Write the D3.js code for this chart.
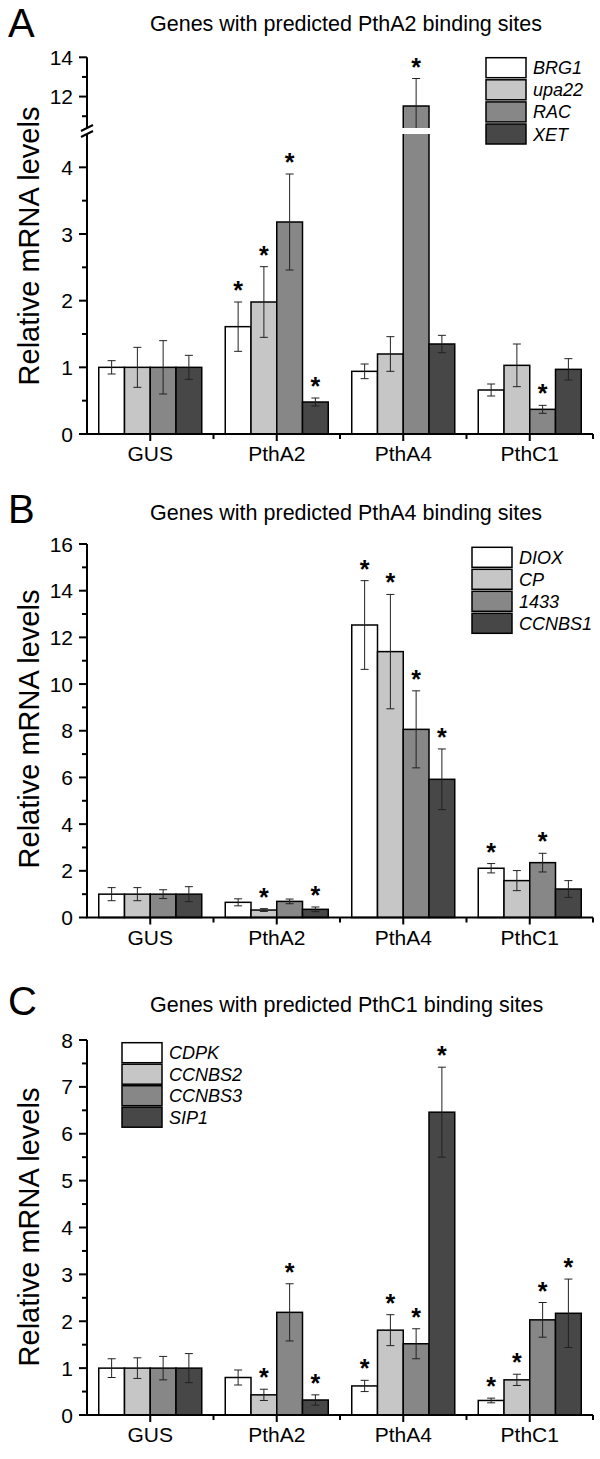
<!DOCTYPE html>
<html>
<head>
<meta charset="utf-8">
<script src="https://cdn.jsdelivr.net/npm/d3@7"></script>
<style>
  html, body { margin: 0; padding: 0; background: #fff; }
  svg { display: block; }
  text { font-family: "Liberation Sans", Arial, sans-serif; fill: #000; }
</style>
</head>
<body>
<svg id="chart" width="600" height="1459"></svg>
<script>
// ---------- DATA ----------
const categories = ["GUS", "PthA2", "PthA4", "PthC1"];
const fills = ["#ffffff", "#c6c6c6", "#878787", "#474747"];

// Panel A
const seriesA = ["BRG1", "upa22", "RAC", "XET"];
const valuesA = [
  [1.00, 1.61, 0.94, 0.66],
  [1.00, 1.98, 1.20, 1.03],
  [1.00, 3.18, 11.52, 0.37],
  [1.00, 0.48, 1.35, 0.97]
];
const errorsA = [
  [0.10, 0.37, 0.11, 0.09],
  [0.30, 0.53, 0.26, 0.32],
  [0.40, 0.72, 1.40, 0.06],
  [0.18, 0.06, 0.13, 0.16]
];
const starsA = [
  [0, 1, 0, 0],
  [0, 1, 0, 0],
  [0, 1, 1, 1],
  [0, 1, 0, 0]
];
const ticksA_low = [0, 1, 2, 3, 4];
const ticksA_high = [12, 14];

// Panel B
const seriesB = ["DIOX", "CP", "1433", "CCNBS1"];
const valuesB = [
  [1.00, 0.65, 12.53, 2.11],
  [1.00, 0.32, 11.39, 1.58],
  [1.00, 0.69, 8.06, 2.35],
  [1.00, 0.35, 5.92, 1.22]
];
const errorsB = [
  [0.28, 0.15, 1.90, 0.20],
  [0.28, 0.06, 2.45, 0.43],
  [0.19, 0.10, 1.65, 0.40],
  [0.32, 0.10, 1.30, 0.36]
];
const starsB = [
  [0, 0, 1, 1],
  [0, 1, 1, 0],
  [0, 0, 1, 1],
  [0, 1, 1, 0]
];
const ticksB = [0, 2, 4, 6, 8, 10, 12, 14, 16];

// Panel C
const seriesC = ["CDPK", "CCNBS2", "CCNBS3", "SIP1"];
const valuesC = [
  [1.00, 0.80, 0.62, 0.31],
  [1.00, 0.43, 1.81, 0.75],
  [1.00, 2.19, 1.52, 2.03],
  [1.00, 0.32, 6.46, 2.17]
];
const errorsC = [
  [0.20, 0.16, 0.12, 0.05],
  [0.22, 0.12, 0.33, 0.12],
  [0.25, 0.61, 0.32, 0.37],
  [0.31, 0.11, 0.96, 0.73]
];
const starsC = [
  [0, 0, 1, 1],
  [0, 1, 1, 1],
  [0, 1, 1, 1],
  [0, 1, 1, 1]
];
const ticksC = [0, 1, 2, 3, 4, 5, 6, 7, 8];

// ---------- DRAW ----------
const svg = d3.select("#chart");
const X0 = 87, X1 = 593;
const x = d3.scaleBand().domain(categories).range([X0, X1]).padding(0);
const groupW = 103;

function drawPanel(cfg) {
  const g = svg.append("g");
  const y = cfg.y; // function value -> pixel
  const xs = d3.scaleBand().domain(cfg.series).range([0, groupW]).padding(0);

  // panel letter & title
  g.append("text").attr("x", 8).attr("y", cfg.letterY)
    .attr("font-size", 40).text(cfg.letter);
  g.append("text").attr("x", 150).attr("y", cfg.titleY)
    .attr("font-size", 21.5).text(cfg.title);

  // bars
  cfg.series.forEach((s, si) => {
    categories.forEach((c, ci) => {
      const v = cfg.values[si][ci];
      const e = cfg.errors[si][ci];
      const bx = x(c) + x.bandwidth() / 2 - groupW / 2 + xs(s);
      const top = y(v);
      g.append("rect")
        .attr("x", bx).attr("y", top)
        .attr("width", xs.bandwidth()).attr("height", cfg.y0 - top)
        .attr("fill", fills[si]).attr("stroke", "#000").attr("stroke-width", 1.5);
      const cx = bx + xs.bandwidth() / 2;
      const yt = y(v + e), yb = y(Math.max(0, v - e));
      g.append("line").attr("x1", cx).attr("x2", cx).attr("y1", yt).attr("y2", yb)
        .attr("stroke", "#222").attr("stroke-width", 1);
      [yt, yb].forEach(yy => {
        g.append("line").attr("x1", cx - 4).attr("x2", cx + 4).attr("y1", yy).attr("y2", yy)
          .attr("stroke", "#222").attr("stroke-width", 1);
      });
      if (cfg.stars[si][ci]) {
        g.append("text").attr("x", cx).attr("y", yt - 3)
          .attr("text-anchor", "middle").attr("font-size", 25)
          .attr("font-weight", "bold").text("*");
      }
    });
  });

  if (cfg.afterBars) cfg.afterBars(g);

  // y axis
  cfg.yAxisSegments.forEach(seg => {
    g.append("line").attr("x1", X0).attr("x2", X0).attr("y1", seg[0]).attr("y2", seg[1])
      .attr("stroke", "#000").attr("stroke-width", 2);
  });
  cfg.majorTicks.forEach(t => {
    g.append("line").attr("x1", X0 - 8).attr("x2", X0).attr("y1", y(t)).attr("y2", y(t))
      .attr("stroke", "#000").attr("stroke-width", 2);
    g.append("text").attr("x", X0 - 14).attr("y", y(t)).attr("dy", "0.36em")
      .attr("text-anchor", "end").attr("font-size", 21).text(t);
  });
  cfg.minorTicks.forEach(t => {
    g.append("line").attr("x1", X0 - 5).attr("x2", X0).attr("y1", y(t)).attr("y2", y(t))
      .attr("stroke", "#000").attr("stroke-width", 2);
  });

  // x axis
  g.append("line").attr("x1", X0 - 1).attr("x2", X1).attr("y1", cfg.y0).attr("y2", cfg.y0)
    .attr("stroke", "#000").attr("stroke-width", 2);
  categories.forEach(c => {
    const cx = x(c) + x.bandwidth() / 2;
    g.append("line").attr("x1", cx).attr("x2", cx).attr("y1", cfg.y0).attr("y2", cfg.y0 + 7)
      .attr("stroke", "#000").attr("stroke-width", 2);
    g.append("text").attr("x", cx).attr("y", cfg.y0 + 27)
      .attr("text-anchor", "middle").attr("font-size", 21).text(c);
  });
  categories.concat(["end"]).forEach((c, i) => {
    const bx = i < categories.length ? x(c) : X1;
    if (i === 0) return;
    g.append("line").attr("x1", bx).attr("x2", bx).attr("y1", cfg.y0).attr("y2", cfg.y0 + 5)
      .attr("stroke", "#000").attr("stroke-width", 2);
  });

  // y label
  g.append("text")
    .attr("transform", `translate(39,${cfg.labelY}) rotate(-90)`)
    .attr("text-anchor", "middle").attr("font-size", 29)
    .text("Relative mRNA levels");

  // legend
  cfg.series.forEach((s, si) => {
    const ly = cfg.legend.y + si * cfg.legend.pitch;
    g.append("rect").attr("x", cfg.legend.x).attr("y", ly)
      .attr("width", 40).attr("height", 20)
      .attr("fill", fills[si]).attr("stroke", "#000").attr("stroke-width", 1.5);
    g.append("text").attr("x", cfg.legend.x + 47).attr("y", ly + 16.5)
      .attr("font-size", 18).attr("font-style", "italic").text(s);
  });
}

// Panel A: broken axis
const yLowA = d3.scaleLinear().domain([0, 4.5]).range([434, 134]);
const yHighA = d3.scaleLinear().domain([10.4, 14]).range([128, 57.3]);
function yA(v) {
  if (v >= 10.4) return yHighA(v);
  if (v <= 4.5) return yLowA(v);
  return 131;
}
drawPanel({
  letter: "A", letterY: 37, title: "Genes with predicted PthA2 binding sites", titleY: 31,
  series: seriesA, values: valuesA, errors: errorsA, stars: starsA,
  y: yA, y0: yLowA(0),
  yAxisSegments: [[yHighA(14), 128], [134, yLowA(0)]],
  majorTicks: ticksA_low.concat(ticksA_high),
  minorTicks: [0.5, 1.5, 2.5, 3.5, 11, 13],
  labelY: 246,
  legend: { x: 486, y: 57.7, pitch: 22.1 },
  afterBars: g => {
    g.append("rect").attr("x", X0 + 2).attr("y", 128).attr("width", X1 - X0).attr("height", 6)
      .attr("fill", "#fff");
  }
});
// break marks
[128, 134].forEach(yy => {
  svg.append("line").attr("x1", X0 - 6).attr("y1", yy + 3).attr("x2", X0 + 6).attr("y2", yy - 3)
    .attr("stroke", "#000").attr("stroke-width", 2);
});

// Panel B
const yB = d3.scaleLinear().domain([0, 16]).range([917.5, 544]);
drawPanel({
  letter: "B", letterY: 523, title: "Genes with predicted PthA4 binding sites", titleY: 520,
  series: seriesB, values: valuesB, errors: errorsB, stars: starsB,
  y: yB, y0: yB(0),
  yAxisSegments: [[yB(16), yB(0)]],
  majorTicks: ticksB,
  minorTicks: [1, 3, 5, 7, 9, 11, 13, 15],
  labelY: 729,
  legend: { x: 472, y: 547.3, pitch: 22 }
});

// Panel C
const yC = d3.scaleLinear().domain([0, 8]).range([1415, 1040]);
drawPanel({
  letter: "C", letterY: 1015, title: "Genes with predicted PthC1 binding sites", titleY: 1012,
  series: seriesC, values: valuesC, errors: errorsC, stars: starsC,
  y: yC, y0: yC(0),
  yAxisSegments: [[yC(8), yC(0)]],
  majorTicks: ticksC,
  minorTicks: [0.5, 1.5, 2.5, 3.5, 4.5, 5.5, 6.5, 7.5],
  labelY: 1227,
  legend: { x: 122, y: 1042.7, pitch: 21.5 }
});
</script>
</body>
</html>
